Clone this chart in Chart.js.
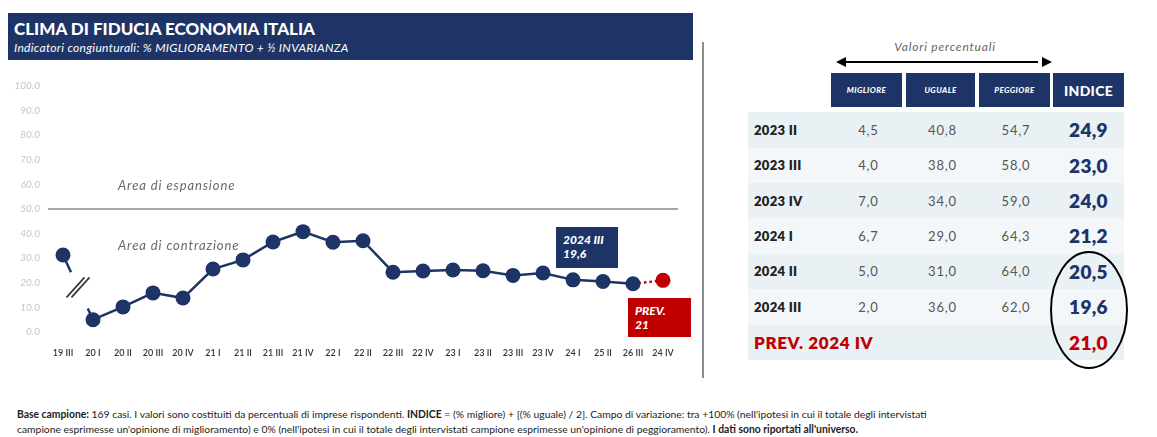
<!DOCTYPE html>
<html lang="it">
<head>
    <meta charset="UTF-8">
    <title>Clima di fiducia economia Italia</title>
    <script src="https://cdn.jsdelivr.net/npm/chart.js"></script>
    <style>
        body {
            margin: 0;
            width: 1157px;
            height: 437px;
            background: #ffffff;
            font-family: 'Lato', 'Open Sans', sans-serif;
            position: relative;
            overflow: hidden;
        }
        .abs { position: absolute; }
        #titolo {
            left: 8px; top: 13px; width: 685px; height: 47px;
            background: #1e3466;
            color: #ffffff;
        }
        #titolo .t1 { position: absolute; left: 6px; top: 5px; font-size: 17px; font-weight: 900; letter-spacing: 0; }
        #titolo .t2 { position: absolute; left: 6px; top: 27px; font-size: 12px; font-style: italic; letter-spacing: 0.3px; }
        #wrapGrafico { left: 0; top: 60px; width: 700px; height: 320px; }
        .area { color: #6a6a6a; font-style: italic; font-size: 13px; letter-spacing: 0.9px; }
        .box { color: #fff; font-weight: 900; font-style: italic; font-size: 12px; line-height: 14px; padding: 6px 0 0 7px; box-sizing: border-box; }
        #divisore { left: 702px; top: 42px; width: 2px; height: 336px; background: #8c8c8c; }
        .cella { position: absolute; display: flex; align-items: center; justify-content: center; box-sizing: border-box; }
        .head { background: #1e3466; color: #fff; font-weight: 900; font-style: italic; font-size: 8px; letter-spacing: 0.4px; }
        .head.big { font-style: normal; font-size: 14px; letter-spacing: 0.3px; }
        .lab { justify-content: flex-start; padding-left: 6px; font-weight: 800; font-size: 13px; color: #222; letter-spacing: 0.3px; }
        .val { color: #555; font-size: 13px; letter-spacing: 0.8px; }
        .ind { color: #1e3466; font-weight: 800; font-size: 19px; letter-spacing: 0.3px; }
        .rosso { color: #c00000; }
        #note { left: 17px; top: 407px; font-size: 10.35px; line-height: 15px; color: #222; white-space: nowrap; }
    </style>
</head>
<body>
    <div id="titolo" class="abs">
        <div class="t1">CLIMA DI FIDUCIA ECONOMIA ITALIA</div>
        <div class="t2">Indicatori congiunturali: % MIGLIORAMENTO + ½ INVARIANZA</div>
    </div>

    <div id="wrapGrafico" class="abs"><canvas id="fiducia"></canvas></div>

    <div class="abs area" style="left:118px; top:177px;">Area di espansione</div>
    <div class="abs area" style="left:118px; top:237px;">Area di contrazione</div>
    <div class="abs box" style="left:556px; top:227px; width:62px; height:41px; background:#1e3466;">2024 III<br>19,6</div>
    <div class="abs box" style="left:628px; top:298px; width:63px; height:39px; background:#c00000;">PREV.<br>21</div>

    <div id="divisore" class="abs"></div>

    <div id="tabella"></div>

    <div id="note" class="abs">
        <b>Base campione:</b> 169 casi. I valori sono costituiti da percentuali di imprese rispondenti. <b>INDICE</b> = (% migliore) + [(% uguale) / 2]. Campo di variazione: tra +100% (nell'ipotesi in cui il totale degli intervistati<br>
        campione esprimesse un'opinione di miglioramento) e 0% (nell'ipotesi in cui il totale degli intervistati campione esprimesse un'opinione di peggioramento). <b>I dati sono riportati all'universo.</b>
    </div>

    <script>
        // trimestri (etichette come nel grafico originale)
        const trimestri = ['19 III', '20 I', '20 II', '20 III', '20 IV', '21 I', '21 II', '21 III', '21 IV',
            '22 I', '22 II', '22 III', '22 IV', '23 I', '23 II', '23 III', '23 IV', '24 I', '25 II', '26 III', '24 IV'];
        // indice di fiducia
        const indice = [31.3, 5.0, 10.2, 15.9, 13.8, 25.6, 29.3, 36.6, 40.8, 36.5, 37.1, 24.3, 24.8, 25.2,
            24.9, 23.0, 24.0, 21.2, 20.5, 19.6, null];
        // previsione
        const previsione = [null, null, null, null, null, null, null, null, null, null, null, null, null, null,
            null, null, null, null, null, 19.6, 21.0];
        const tickY = ['0.0', '10.0', '20.0', '30.0', '40.0', '50.0', '60.0', '70.0', '80.0', '90.0', '100.0'];

        // tabella
        const periodi = ['2023 II', '2023 III', '2023 IV', '2024 I', '2024 II', '2024 III'];
        const migliore = ['4,5', '4,0', '7,0', '6,7', '5,0', '2,0'];
        const uguale = ['40,8', '38,0', '34,0', '29,0', '31,0', '36,0'];
        const peggiore = ['54,7', '58,0', '59,0', '64,3', '64,0', '62,0'];
        const indiceTab = ['24,9', '23,0', '24,0', '21,2', '20,5', '19,6'];
        const intestazioni = ['MIGLIORE', 'UGUALE', 'PEGGIORE', 'INDICE'];

        const BLU = '#1e3466';
        const ROSSO = '#c00000';

        // simbolo di interruzione "//" tra 19 III e 20 I
        const interruzione = {
            id: 'interruzione',
            afterDatasetsDraw(chart) {
                const x = chart.scales.x, y = chart.scales.y, c = chart.ctx;
                const mx = (x.getPixelForValue(0) + x.getPixelForValue(1)) / 2;
                const my = (y.getPixelForValue(indice[0]) + y.getPixelForValue(indice[1])) / 2;
                c.save();
                c.strokeStyle = '#333';
                c.lineWidth = 1.6;
                [-2.5, 2.5].forEach(d => {
                    c.beginPath();
                    c.moveTo(mx + d - 9, my + 10);
                    c.lineTo(mx + d + 9, my - 10);
                    c.stroke();
                });
                c.restore();
            }
        };

        new Chart(document.getElementById('fiducia'), {
            type: 'line',
            data: {
                labels: trimestri,
                datasets: [{
                    data: indice,
                    borderColor: BLU,
                    backgroundColor: BLU,
                    borderWidth: 2.5,
                    pointRadius: 7.5,
                    pointHoverRadius: 7.5,
                    pointBorderWidth: 0,
                    order: 1,
                    segment: {
                        borderDash: ctx => ctx.p0DataIndex === 0 ? [19, 40] : undefined
                    }
                }, {
                    data: previsione,
                    borderColor: ROSSO,
                    backgroundColor: ROSSO,
                    borderWidth: 2.5,
                    borderDash: [2.5, 3],
                    pointRadius: previsione.map((v, i) => i === 20 ? 7.5 : 0),
                    pointBorderWidth: 0,
                    order: 2
                }]
            },
            options: {
                responsive: true,
                maintainAspectRatio: false,
                animation: false,
                layout: { padding: { top: 26, right: 22, bottom: 10, left: 0 } },
                plugins: { legend: { display: false }, tooltip: { enabled: false } },
                scales: {
                    x: {
                        offset: true,
                        grid: { display: false },
                        border: { display: false },
                        afterFit: s => { s.height = 38; },
                        ticks: {
                            autoSkip: false, maxRotation: 0, minRotation: 0,
                            color: '#333333',
                            font: { size: 9, family: 'Lato', weight: '600' },
                            padding: 8
                        }
                    },
                    y: {
                        min: 0, max: 100,
                        border: { display: false },
                        afterFit: s => { s.width = 48; },
                        grid: {
                            drawTicks: false,
                            color: c => c.tick && c.tick.value === 50 ? '#a8a8a8' : 'rgba(0,0,0,0)',
                            lineWidth: 2
                        },
                        ticks: {
                            stepSize: 10,
                            padding: 8,
                            color: '#c4c4c4',
                            font: { size: 10, style: 'italic', family: 'Lato' },
                            callback: (v, i) => tickY[i]
                        }
                    }
                }
            },
            plugins: [interruzione]
        });

        // costruzione della tabella a destra
        const tab = document.getElementById('tabella');
        const colX = [748, 831, 906, 979, 1053];
        const colW = [80, 71, 69, 71, 71];
        const righeY = [112, 147.5, 183, 218, 253.5, 289, 324.5];
        const hRiga = 35.5;
        function cella(x, y, w, h, cls, testo, bg) {
            const d = document.createElement('div');
            d.className = 'cella ' + cls;
            d.style.left = x + 'px'; d.style.top = y + 'px';
            d.style.width = w + 'px'; d.style.height = h + 'px';
            if (bg) d.style.background = bg;
            d.textContent = testo;
            tab.appendChild(d);
        }
        intestazioni.forEach((t, i) => cella(colX[i + 1], 73, colW[i + 1], 34, 'head' + (i === 3 ? ' big' : ''), t));
        periodi.forEach((p, r) => {
            const bg = r % 2 === 0 ? '#e9f1f5' : '#f3f7fa';
            const y = righeY[r];
            cella(colX[0], y, colW[0] + 3, hRiga, 'lab', p, bg);
            cella(colX[1], y, colW[1] + 4, hRiga, 'val', migliore[r], bg);
            cella(colX[2], y, colW[2] + 4, hRiga, 'val', uguale[r], bg);
            cella(colX[3], y, colW[3] + 3, hRiga, 'val', peggiore[r], bg);
            cella(colX[4], y, colW[4], hRiga, 'ind', indiceTab[r], bg);
        });
        cella(colX[0], righeY[6], 305, hRiga, 'lab rosso', 'PREV. 2024 IV', '#e9f1f5');
        tab.lastChild.style.fontSize = '17px';
        tab.lastChild.style.letterSpacing = '0.6px';
        cella(colX[4], righeY[6], colW[4], hRiga, 'ind rosso', '21,0', '#e9f1f5');
    </script>

    <!-- freccia "Valori percentuali" ed ellisse -->
    <div class="abs" style="left:838px; top:39px; width:214px; text-align:center; font-size:12px; font-style:italic; color:#666; letter-spacing:0.8px;">Valori percentuali</div>
    <svg class="abs" style="left:830px; top:54px;" width="230" height="16">
        <line x1="14" y1="8" x2="208" y2="8" stroke="#000" stroke-width="2"/>
        <polygon points="6,8 16,3 16,13" fill="#000"/>
        <polygon points="222,8 212,3 212,13" fill="#000"/>
    </svg>
    <svg class="abs" style="left:1045px; top:248px;" width="90" height="125">
        <ellipse cx="44" cy="62" rx="38" ry="58" fill="none" stroke="#000" stroke-width="2"/>
    </svg>
</body>
</html>
